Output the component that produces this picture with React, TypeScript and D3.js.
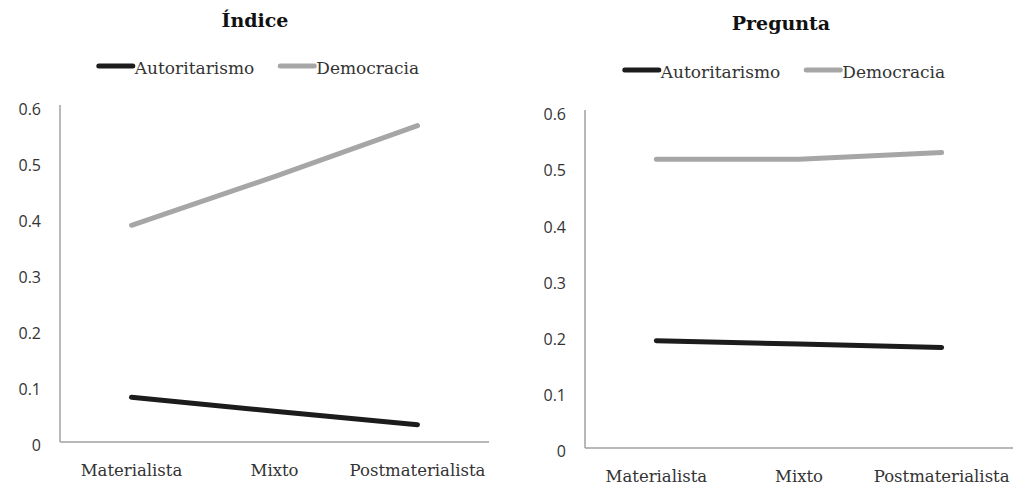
import { useEffect, useRef } from 'react';
import * as d3 from 'd3';

// Chart data
const categories = ['Materialista', 'Mixto', 'Postmaterialista'];
const seriesNames = ['Autoritarismo', 'Democracia'];
const seriesColors = ['#1c1c1c', '#a6a6a6'];
const yTicks = [0, 0.1, 0.2, 0.3, 0.4, 0.5, 0.6];

const indiceAutoritarismo = [0.080, 0.055, 0.031];
const indiceDemocracia = [0.387, 0.474, 0.565];
const preguntaAutoritarismo = [0.191, 0.185, 0.179];
const preguntaDemocracia = [0.514, 0.514, 0.526];

interface PanelProps {
  title: string;
  series: number[][];
  x0: number;
  plotLeft: number;
  plotRight: number;
  plotTop: number;
  plotBottom: number;
  titleY: number;
  legendY: number;
}

const serif = '"DejaVu Serif", serif';
const sans = '"Open Sans", sans-serif';

function Panel({ title, series, x0, plotLeft, plotRight, plotTop, plotBottom, titleY, legendY }: PanelProps) {
  const gRef = useRef<SVGGElement>(null);

  useEffect(() => {
    if (!gRef.current) return;
    const g = d3.select(gRef.current);
    g.selectAll('*').remove();

    const panelCenter = x0 + 255;

    const xScale = d3.scaleBand<string>()
      .domain(categories)
      .range([plotLeft, plotRight]);

    const yScale = d3.scaleLinear()
      .domain([0, 0.6])
      .range([plotBottom, plotTop]);

    // Title
    g.append('text')
      .attr('x', panelCenter)
      .attr('y', titleY)
      .attr('text-anchor', 'middle')
      .style('font-family', serif)
      .style('font-size', '19px')
      .style('font-weight', 'bold')
      .attr('fill', '#111')
      .text(title);

    // Legend
    const legend = g.append('g');
    let cursor = 0;
    seriesNames.forEach((name, i) => {
      const item = legend.append('g').attr('transform', `translate(${cursor},0)`);
      item.append('line')
        .attr('x1', 2)
        .attr('x2', 36)
        .attr('y1', legendY - 8)
        .attr('y2', legendY - 8)
        .attr('stroke', seriesColors[i])
        .attr('stroke-width', 5)
        .attr('stroke-linecap', 'round');
      const t = item.append('text')
        .attr('x', 38)
        .attr('y', legendY)
        .style('font-family', serif)
        .style('font-size', '17px')
        .attr('fill', '#333')
        .text(name);
      const w = (t.node() as SVGTextElement).getComputedTextLength();
      cursor += 38 + w + 24;
    });
    const legendWidth = cursor - 24;
    legend.attr('transform', `translate(${panelCenter + 3 - legendWidth / 2},0)`);

    // Y axis labels
    const yAxis = d3.axisLeft(yScale)
      .tickValues(yTicks)
      .tickSize(0)
      .tickPadding(19)
      .tickFormat(d => (d === 0 ? '0' : d3.format('.1f')(d as number)));
    const ya = g.append('g')
      .attr('transform', `translate(${plotLeft},0)`)
      .call(yAxis);
    ya.select('.domain').remove();
    ya.selectAll('text')
      .attr('dy', '0.55em')
      .style('font-family', sans)
      .style('font-size', '16px')
      .attr('fill', '#333');

    // Axis lines
    g.append('line')
      .attr('x1', plotLeft)
      .attr('x2', plotLeft)
      .attr('y1', plotTop - 1)
      .attr('y2', plotBottom)
      .attr('stroke', '#a0a0a0')
      .attr('stroke-width', 1.5);
    g.append('line')
      .attr('x1', plotLeft)
      .attr('x2', plotRight)
      .attr('y1', plotBottom)
      .attr('y2', plotBottom)
      .attr('stroke', '#a0a0a0')
      .attr('stroke-width', 1.5);

    // X axis labels
    const xa = g.append('g')
      .attr('transform', `translate(0,${plotBottom})`)
      .call(d3.axisBottom(xScale).tickSize(0).tickPadding(22));
    xa.select('.domain').remove();
    xa.selectAll('text')
      .style('font-family', serif)
      .style('font-size', '16.5px')
      .attr('fill', '#333');

    // Lines
    const line = d3.line<number>()
      .x((_d, i) => (xScale(categories[i]) as number) + xScale.bandwidth() / 2)
      .y(d => yScale(d));

    series.forEach((values, i) => {
      g.append('path')
        .datum(values)
        .attr('fill', 'none')
        .attr('stroke', seriesColors[i])
        .attr('stroke-width', 5)
        .attr('stroke-linecap', 'round')
        .attr('stroke-linejoin', 'round')
        .attr('d', line);
    });
  }, [title, series, x0, plotLeft, plotRight, plotTop, plotBottom, titleY, legendY]);

  return <g ref={gRef} />;
}

export default function App() {
  useEffect(() => {
    document.body.style.margin = '0';
  }, []);

  return (
    <svg width={1026} height={498} style={{ display: 'block', background: '#fff' }}>
      <Panel
        title="Índice"
        series={[indiceAutoritarismo, indiceDemocracia]}
        x0={0}
        plotLeft={60}
        plotRight={489}
        plotTop={106}
        plotBottom={442}
        titleY={27}
        legendY={74}
      />
      <Panel
        title="Pregunta"
        series={[preguntaAutoritarismo, preguntaDemocracia]}
        x0={526}
        plotLeft={585}
        plotRight={1013}
        plotTop={111}
        plotBottom={448}
        titleY={30}
        legendY={78}
      />
    </svg>
  );
}
